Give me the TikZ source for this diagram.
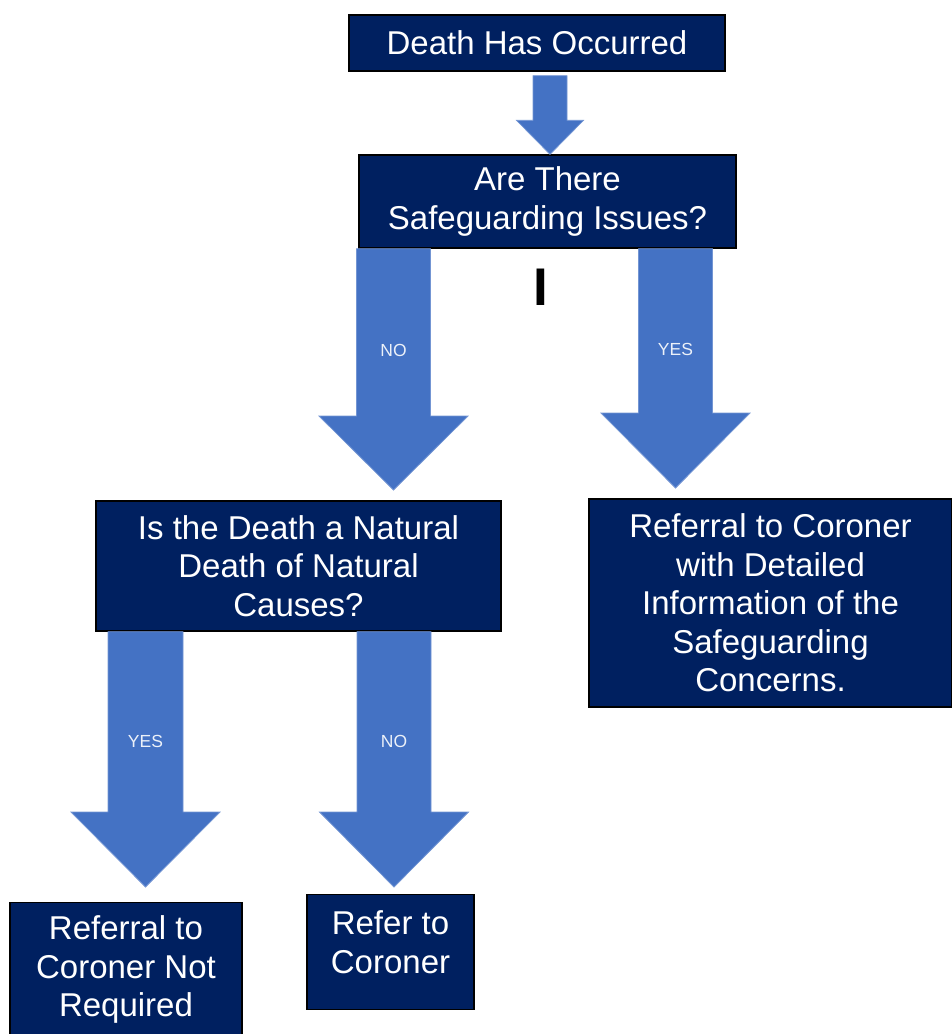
\documentclass[tikz,border=0pt]{standalone}
\usepackage{fontspec}
\setmainfont{Liberation Sans}
\usetikzlibrary{calc}

\definecolor{navy}{HTML}{002060}
\definecolor{arrowblue}{HTML}{4472C4}

% block arrow: start, tip, shaft half width, head half width, head length
\newcommand{\blockarrow}[5]{%
  \filldraw[flowarrow] ($(#1)+(-#3,0)$) -- ($(#2)+(-#3,-#5)$) -- ($(#2)+(-#4,-#5)$) -- (#2)
    -- ($(#2)+(#4,-#5)$) -- ($(#2)+(#3,-#5)$) -- ($(#1)+(#3,0)$) -- cycle;
}

\begin{document}
\begin{tikzpicture}[x=1pt,y=-1pt,
    stepbox/.style={draw=black, line width=1.4pt, fill=navy, text=white, align=center,
      inner sep=0pt, font=\fontsize{33}{38.5}\selectfont},
    flowarrow/.style={fill=arrowblue, draw=arrowblue!75!white, line width=0.8pt},
    arrowlabel/.style={text=white!90!arrowblue, font=\fontsize{17.5}{17.5}\selectfont}]

    \useasboundingbox (0,0) rectangle (952,1034);
    \clip (0,0) rectangle (952,1034);

    % boxes
    \node (death) [stepbox, minimum width=376, minimum height=56] at (537,43) {Death Has Occurred};
    \node (safe) [stepbox, minimum width=377, minimum height=93] at (547.5,201.5) {Are There\\Safeguarding Issues?};
    \node (natural) [stepbox, minimum width=405, minimum height=130] at (298.5,566) {Is the Death a Natural\\Death of Natural\\Causes?};
    \node (detail) [stepbox, minimum width=363, minimum height=208] at (770.5,603) {Referral to Coroner\\with Detailed\\Information of the\\Safeguarding\\Concerns.};
    \node (notreq) [stepbox, minimum width=232, inner ysep=13, anchor=north] at (126,902) {Referral to\\Coroner Not\\Required};
    \node (refer) [stepbox, minimum width=167, inner ysep=16, anchor=north] at (390.5,894) {Refer to\\Coroner\rule[-20.5pt]{0pt}{20.5pt}};

    % arrow tips
    \coordinate (tipSafe) at (safe.north -| 550,0);
    \coordinate (tipNo) at (393.5,490);
    \coordinate (tipYes) at (675.5,488);
    \coordinate (tipNatYes) at (145.5,887);
    \coordinate (tipNatNo) at (394,887);

    \blockarrow{$(death.south -| tipSafe)+(0,4)$}{tipSafe}{17}{33.5}{34}
    \blockarrow{safe.south -| tipNo}{tipNo}{37}{74.5}{74}
    \blockarrow{safe.south -| tipYes}{tipYes}{37}{74.5}{75}
    \blockarrow{natural.south -| tipNatYes}{tipNatYes}{37.5}{74.5}{75}
    \blockarrow{natural.south -| tipNatNo}{tipNatNo}{37}{74.5}{75}

    \node (lblNo) [arrowlabel] at ($(safe.south -| tipNo)!0.42!(tipNo)$) {NO};
    \node (lblYes) [arrowlabel] at ($(safe.south -| tipYes)!0.42!(tipYes)$) {YES};
    \node (lblNatYes) [arrowlabel] at ($(natural.south -| tipNatYes)!0.43!(tipNatYes)$) {YES};
    \node (lblNatNo) [arrowlabel] at ($(natural.south -| tipNatNo)!0.43!(tipNatNo)$) {NO};

    \node (mark) [font=\fontsize{53}{53}\selectfont\bfseries, inner sep=0pt] at (541,287) {I};

\end{tikzpicture}
\end{document}
